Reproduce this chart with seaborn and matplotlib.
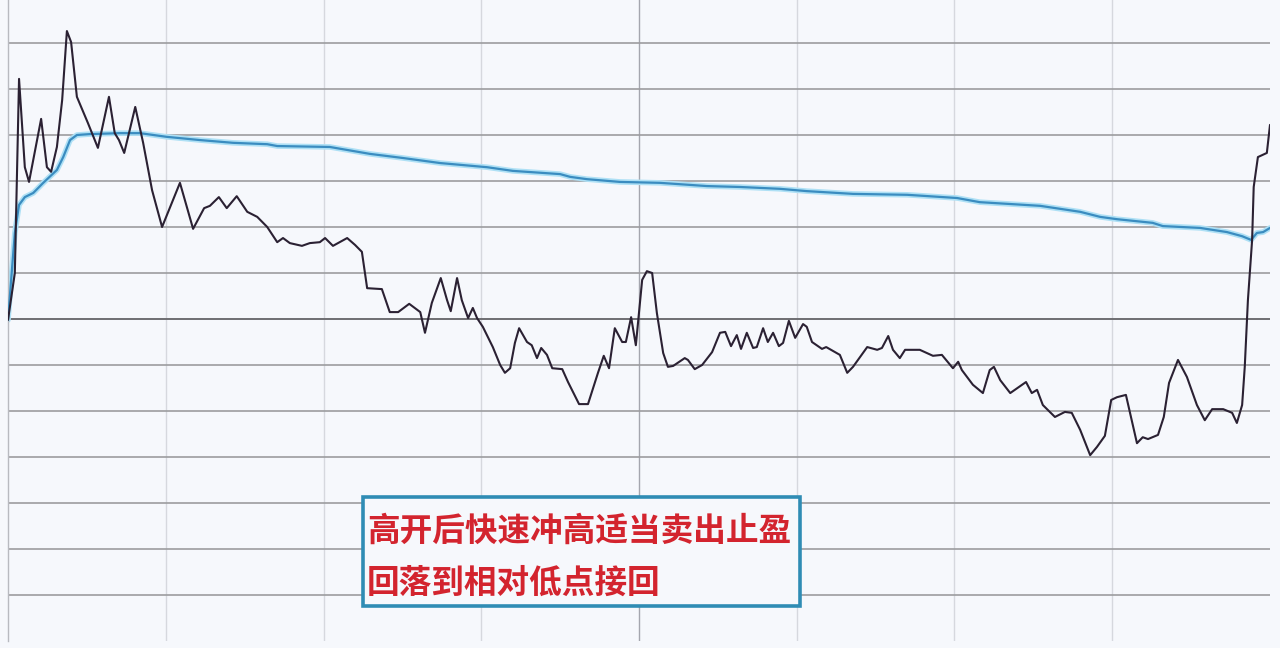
import numpy as np
import pandas as pd
import matplotlib
matplotlib.use("Agg")
import matplotlib.pyplot as plt
from matplotlib.patches import Rectangle
import seaborn as sns

# intraday minutes (0-240) and change vs previous close (one grid step = 1 unit)
price_min = [0.0, 1.3, 2.1, 3.2, 4.0, 6.3, 7.4, 8.2, 9.3, 10.3, 11.2, 12.0, 13.1, 15.2, 17.1,
             19.2, 20.3, 21.1, 22.1, 24.2, 25.7, 27.4, 29.3, 32.7, 35.2, 37.3, 38.4, 40.1, 41.6,
             43.5, 45.5, 47.4, 49.3, 51.2, 52.3, 53.6, 55.9, 57.4, 59.3, 60.3, 61.8, 64.5, 66.0,
             67.3, 68.3, 71.1, 72.6, 74.2, 76.3, 78.4, 79.3, 80.6, 82.3, 83.5, 84.2, 85.4, 86.3,
             87.5, 88.4, 89.2, 90.3, 92.2, 93.6, 94.5, 95.5, 96.4, 97.2, 98.7, 99.6, 100.6, 101.4,
             102.5, 103.5, 105.4, 106.5, 108.6, 110.3, 112.2, 113.3, 114.3, 115.4, 116.8, 117.5,
             118.5, 119.4, 120.6, 121.5, 122.5, 123.4, 124.6, 125.5, 126.5, 128.7, 129.3, 130.6,
             132.0, 133.9, 135.4, 136.4, 137.5, 138.6, 139.4, 140.5, 141.7, 142.4, 143.6, 144.5,
             145.5, 146.6, 147.4, 148.5, 149.7, 151.2, 151.9, 152.9, 154.8, 155.6, 158.2, 159.6,
             160.7, 163.4, 165.3, 166.2, 167.4, 168.3, 169.6, 170.6, 173.4, 175.9, 177.6, 179.7,
             180.7, 181.4, 183.5, 185.4, 186.7, 187.5, 188.7, 190.6, 193.6, 194.7, 195.7, 196.8,
             199.1, 201.0, 202.3, 203.9, 205.8, 207.1, 208.6, 209.8, 210.9, 212.6, 214.7, 215.8,
             216.8, 218.7, 219.8, 220.8, 222.5, 224.2, 226.1, 227.6, 229.0, 231.1, 232.8, 233.7,
             234.7, 235.2, 235.8, 236.6, 236.9, 237.7, 239.4, 240.0]
price_chg = [-0.02, 1.00, 5.22, 3.30, 2.98, 4.35, 3.30, 3.20, 3.74, 4.76, 6.26, 6.02, 4.83, 4.26, 3.72,
             4.83, 4.04, 3.89, 3.61, 4.61, 3.83, 2.80, 2.00, 2.96, 1.96, 2.41, 2.46, 2.65, 2.41,
             2.67, 2.33, 2.22, 2.00, 1.67, 1.76, 1.65, 1.59, 1.65, 1.67, 1.76, 1.59, 1.76, 1.61,
             1.46, 0.67, 0.65, 0.15, 0.15, 0.33, 0.15, -0.30, 0.35, 0.89, 0.41, 0.17, 0.89, 0.41,
             0.02, 0.24, 0.02, -0.17, -0.61, -1.00, -1.17, -1.07, -0.52, -0.20, -0.50, -0.57, -0.85, -0.63,
             -0.78, -1.07, -1.09, -1.37, -1.85, -1.85, -1.17, -0.80, -1.07, -0.20, -0.50, -0.50,
             0.04, -0.57, 0.85, 1.04, 1.00, 0.13, -0.74, -1.04, -1.02, -0.85, -0.89, -1.09,
             -1.00, -0.72, -0.30, -0.28, -0.59, -0.35, -0.65, -0.30, -0.63, -0.61, -0.20, -0.50,
             -0.30, -0.59, -0.52, -0.04, -0.41, -0.11, -0.17, -0.50, -0.65, -0.61, -0.78, -1.17,
             -1.04, -0.61, -0.67, -0.63, -0.37, -0.67, -0.85, -0.67, -0.67, -0.80, -0.78, -1.07,
             -0.93, -1.11, -1.43, -1.61, -1.11, -1.04, -1.33, -1.61, -1.37, -1.61, -1.54, -1.87,
             -2.13, -2.02, -2.04, -2.41, -2.96, -2.78, -2.54, -1.76, -1.70, -1.65, -2.70, -2.57,
             -2.61, -2.52, -2.13, -1.39, -0.89, -1.26, -1.87, -2.20, -1.96, -1.96, -2.04, -2.26,
             -1.87, -1.04, 0.41, 1.72, 2.87, 3.52, 3.61, 4.22]

avg_min = [0.0, 1.3, 2.1, 3.2, 4.8, 6.7, 9.3, 10.5, 11.8, 13.1, 15.6, 21.3, 25.1, 30.2, 36.5,
           42.8, 49.3, 51.2, 61.2, 68.8, 75.1, 82.2, 91.1, 96.0, 105.0, 106.9, 110.1, 116.4,
           124.0, 132.9, 139.2, 146.8, 151.9, 160.7, 171.0, 180.5, 184.8, 196.3, 203.9, 207.7,
           210.9, 217.7, 219.6, 226.7, 231.8, 234.7, 236.4, 237.5, 238.7, 240.0]
avg_chg = [-0.02, 1.87, 2.48, 2.65, 2.74, 2.96, 3.24, 3.52, 3.89, 4.00, 4.02, 4.04, 4.04, 3.96, 3.89,
           3.83, 3.80, 3.76, 3.74, 3.59, 3.50, 3.39, 3.30, 3.22, 3.15, 3.09, 3.04, 2.98,
           2.96, 2.89, 2.87, 2.83, 2.78, 2.72, 2.70, 2.63, 2.54, 2.46, 2.33, 2.22,
           2.17, 2.09, 2.02, 1.98, 1.89, 1.80, 1.72, 1.87, 1.89, 1.98]

note_lines = ["高开后快速冲高适当卖出止盈", "回落到相对低点接回"]

price_df = pd.DataFrame({"minute": price_min, "chg": price_chg})
avg_df = pd.DataFrame({"minute": avg_min, "chg": avg_chg})

sns.set_style("white")
plt.rcParams["font.family"] = ["Noto Sans CJK SC", "DejaVu Sans"]

fig = plt.figure(figsize=(12.8, 6.48), dpi=100)
fig.patch.set_facecolor("#f6f8fc")
ax = fig.add_axes([8 / 1280, 7 / 648, 1262 / 1280, 644 / 648])
ax.set_facecolor("#f6f8fc")

ax.set_xlim(0, 240)
ax.set_ylim(-7, 7)

# grid
for t in range(30, 240, 30):
    ax.axvline(t, color="#a4a6ae" if t == 120 else "#d6d8de", lw=1.0, zorder=1)
for v in range(-6, 7):
    ax.axhline(v, color="#6e6e72" if v == 0 else "#9c9c9f", lw=1.4 if v == 0 else 1.2, zorder=1)

# average line with a light halo
sns.lineplot(data=avg_df, x="minute", y="chg", ax=ax, color="#aee0f5", lw=4.0, zorder=2)
sns.lineplot(data=avg_df, x="minute", y="chg", ax=ax, color="#3a8cc0", lw=1.6, zorder=3)
sns.lineplot(data=price_df, x="minute", y="chg", ax=ax, color="#2b2133", lw=1.5, zorder=4)

ax.set_xticks([])
ax.set_yticks([])
ax.set_xlabel("")
ax.set_ylabel("")
for side in ["top", "right", "bottom"]:
    ax.spines[side].set_visible(False)
ax.spines["left"].set_color("#b8bac0")
ax.spines["left"].set_linewidth(1.0)

# note box
fig.patches.append(Rectangle((363 / 1280, 42 / 648), 437 / 1280, 109 / 648,
                             transform=fig.transFigure, fill=True, facecolor="#f6f8fc",
                             edgecolor="#2f8cb4", lw=2.6, zorder=5))
fig.text(367 / 1280, 117 / 648, note_lines[0], color="#d3242e", fontsize=23.5,
         fontweight="bold", va="center", ha="left", zorder=6)
fig.text(367 / 1280, 65 / 648, note_lines[1], color="#d3242e", fontsize=23.5,
         fontweight="bold", va="center", ha="left", zorder=6)

fig.savefig("out.png", dpi=100, facecolor=fig.get_facecolor())
